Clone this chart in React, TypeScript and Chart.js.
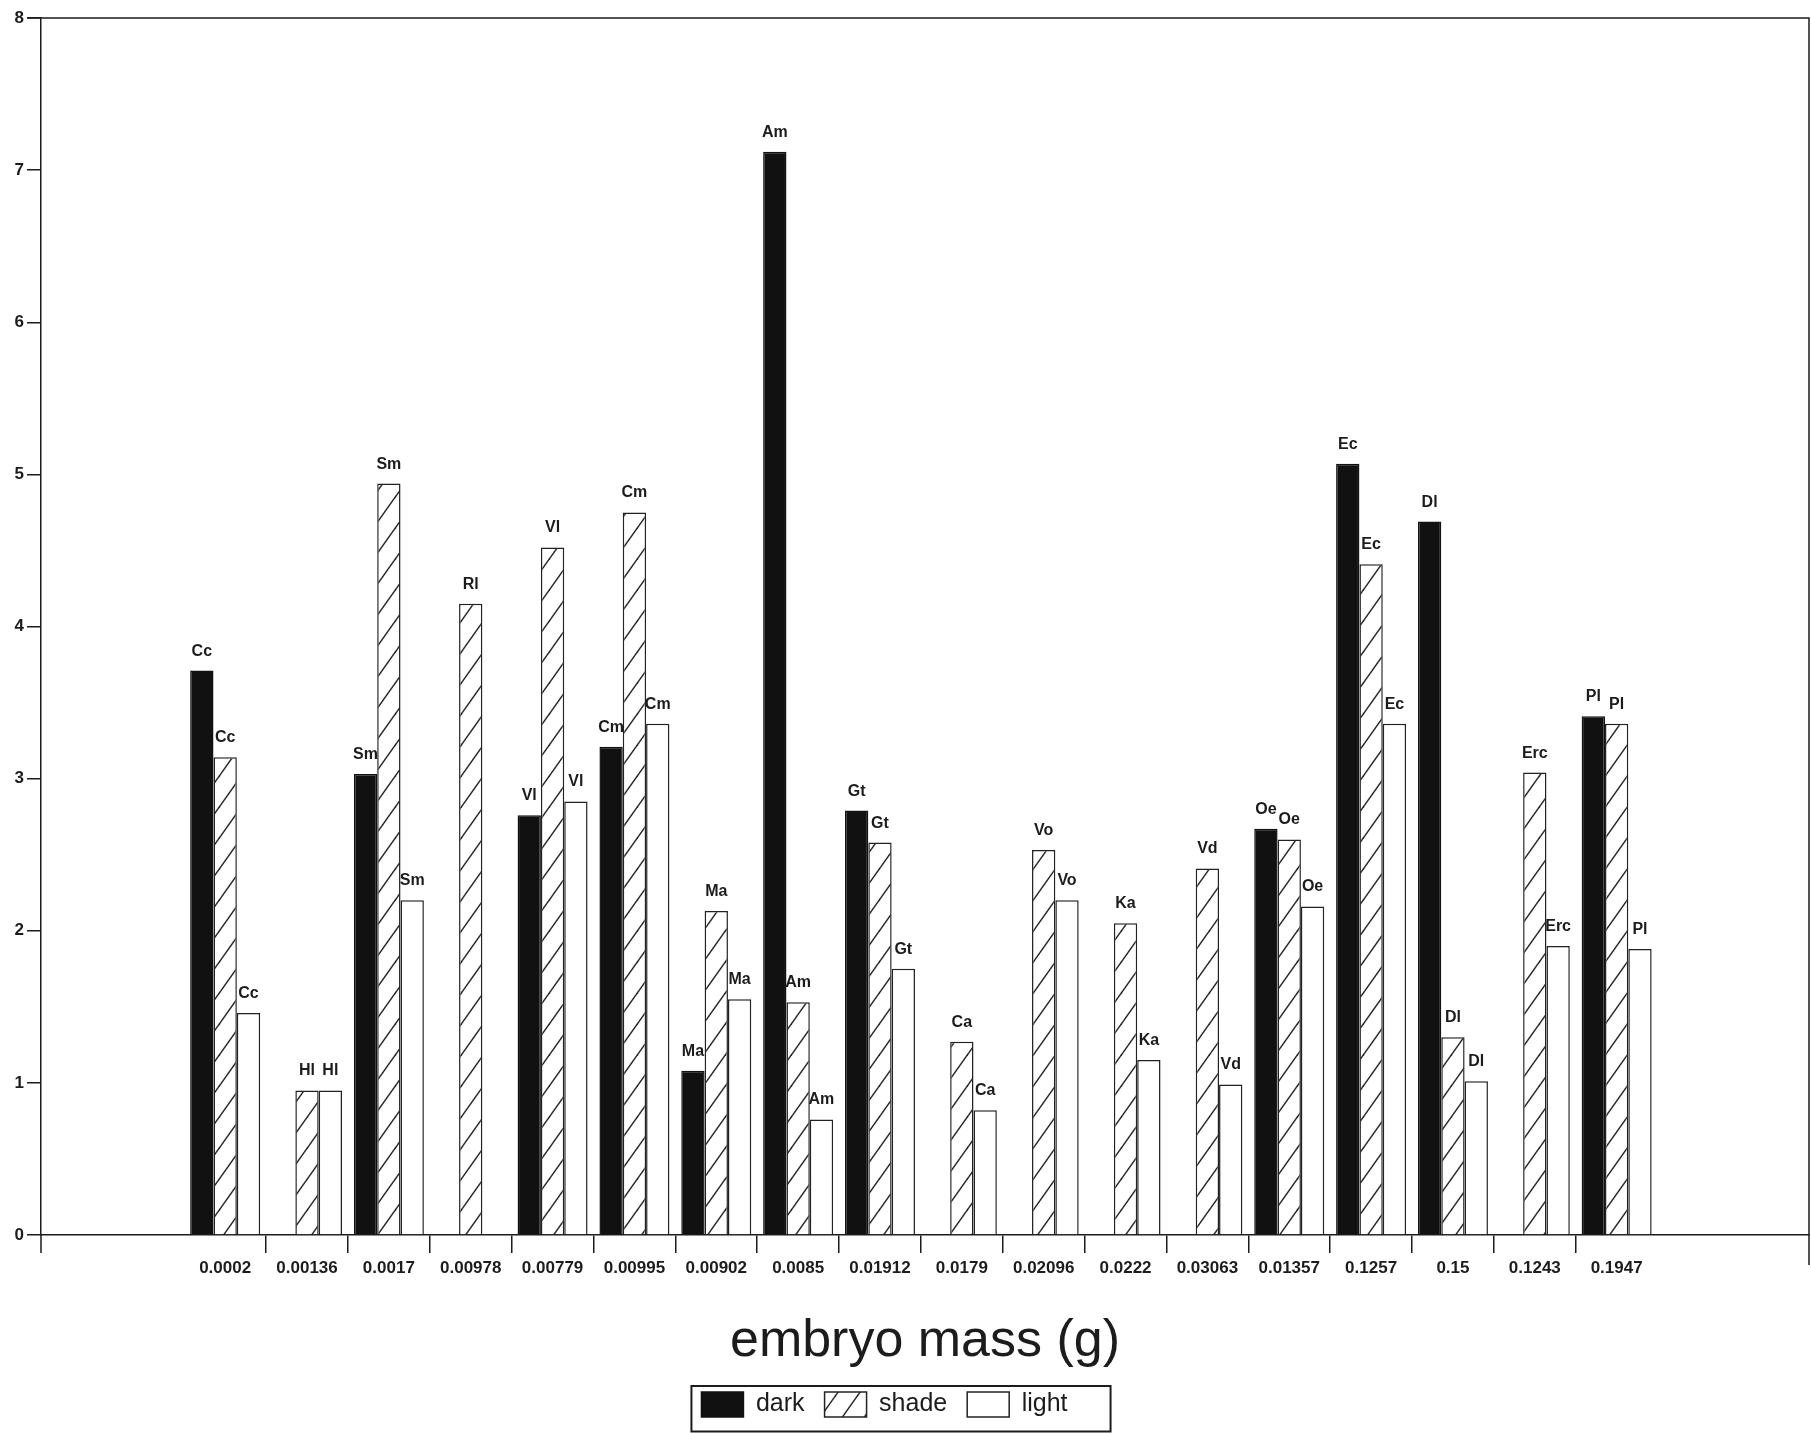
import React, { useEffect, useRef } from 'react';
import { Chart, registerables } from 'chart.js';

Chart.register(...registerables);

// ---- data ----
const massLabels = ['0.0002', '0.00136', '0.0017', '0.00978', '0.00779', '0.00995', '0.00902', '0.0085', '0.01912', '0.0179', '0.02096', '0.0222', '0.03063', '0.01357', '0.1257', '0.15', '0.1243', '0.1947'];
const speciesCodes = ['Cc', 'Hl', 'Sm', 'Rl', 'Vl', 'Cm', 'Ma', 'Am', 'Gt', 'Ca', 'Vo', 'Ka', 'Vd', 'Oe', 'Ec', 'Dl', 'Erc', 'Pl'];
const darkValues = [3.71, null, 3.03, null, 2.76, 3.21, 1.08, 7.12, 2.79, null, null, null, null, 2.67, 5.07, 4.69, null, 3.41];
const shadeValues = [3.14, 0.95, 4.94, 4.15, 4.52, 4.75, 2.13, 1.53, 2.58, 1.27, 2.53, 2.05, 2.41, 2.6, 4.41, 1.3, 3.04, 3.36];
const lightValues = [1.46, 0.95, 2.2, null, 2.85, 3.36, 1.55, 0.76, 1.75, 0.82, 2.2, 1.15, 0.99, 2.16, 3.36, 1.01, 1.9, 1.88];
const seriesNames = ['dark', 'shade', 'light'];
const xAxisTitle = 'embryo mass (g)';
const yMin = 0;
const yMax = 8;

const INK = '#1c1c1c';
const FONT = 'Arial, "Liberation Sans", Helvetica, sans-serif';

function makeHatch(): CanvasPattern | string {
  const W = 22;
  const H = 31;
  const c = document.createElement('canvas');
  c.width = W;
  c.height = H;
  const g = c.getContext('2d');
  if (!g) return '#fff';
  g.fillStyle = '#ffffff';
  g.fillRect(0, 0, W, H);
  g.strokeStyle = '#2a2a2a';
  g.lineWidth = 1.5;
  for (const dx of [-W, 0, W]) {
    g.beginPath();
    g.moveTo(-W + dx, 2 * H);
    g.lineTo(2 * W + dx, -H);
    g.stroke();
  }
  const p = g.createPattern(c, 'repeat');
  return p || '#fff';
}

const toPoints = (vals: (number | null)[]) => vals.map((v, i) => ({ x: i, y: v }));

const barLabelPlugin = {
  id: 'barLabels',
  beforeDatasetsDraw(chart: any) {
    const ctx = chart.ctx;
    ctx.save();
    ctx.font = `bold 16px ${FONT}`;
    ctx.fillStyle = INK;
    ctx.textAlign = 'center';
    ctx.textBaseline = 'alphabetic';
    chart.data.datasets.forEach((ds: any, d: number) => {
      const meta = chart.getDatasetMeta(d);
      meta.data.forEach((el: any, i: number) => {
        const v = ds.data[i] && ds.data[i].y;
        if (v === null || v === undefined) return;
        ctx.fillText(speciesCodes[i], el.x, el.y - 15);
      });
    });
    ctx.restore();
  },
};

const legendShiftPlugin = {
  id: 'legendShift',
  afterLayout(chart: any) {
    const lg = chart.legend;
    if (lg) {
      lg.left -= 20;
      lg.right -= 20;
    }
  },
};

const framePlugin = {
  id: 'frame',
  afterDraw(chart: any) {
    const { ctx, chartArea } = chart;
    const { left, right, top, bottom } = chartArea;
    ctx.save();
    ctx.strokeStyle = INK;
    ctx.lineWidth = 1.5;
    ctx.beginPath();
    ctx.moveTo(left - 14, top);
    ctx.lineTo(right, top);
    ctx.lineTo(right, bottom + 30);
    ctx.moveTo(left, bottom);
    ctx.lineTo(left, bottom + 18);
    ctx.stroke();

    const hb = chart.legend && chart.legend.legendHitBoxes;
    if (hb && hb.length) {
      const first = hb[0];
      const last = hb[hb.length - 1];
      const x0 = first.left - 10;
      const x1 = last.left + last.width + 43;
      const y0 = first.top - 6;
      const y1 = Math.min(chart.height - 1.5, y0 + 46);
      ctx.lineWidth = 2;
      ctx.strokeRect(x0, y0, x1 - x0, y1 - y0);
    }
    ctx.restore();
  },
};

export default function App() {
  const ref = useRef<HTMLCanvasElement | null>(null);

  useEffect(() => {
    if (!ref.current) return;
    const hatch = makeHatch();
    const chart = new Chart(ref.current, {
      type: 'bar',
      data: {
        datasets: [
          {
            label: seriesNames[0],
            data: toPoints(darkValues),
            backgroundColor: '#111111',
            borderColor: '#111111',
            borderWidth: 1.5,
          },
          {
            label: seriesNames[1],
            data: toPoints(shadeValues),
            backgroundColor: hatch as any,
            borderColor: '#222222',
            borderWidth: 1.5,
          },
          {
            label: seriesNames[2],
            data: toPoints(lightValues),
            backgroundColor: '#ffffff',
            borderColor: '#222222',
            borderWidth: 1.5,
          },
        ] as any,
      },
      options: {
        responsive: false,
        animation: false,
        devicePixelRatio: 1,
        datasets: {
          bar: {
            categoryPercentage: 0.855,
            barPercentage: 1,
          },
        },
        layout: { padding: { left: 0, top: 18, right: 2, bottom: 6 } },
        plugins: {
          tooltip: { enabled: false },
          title: { display: false },
          legend: {
            display: true,
            position: 'bottom',
            labels: {
              boxWidth: 42,
              boxHeight: 25,
              padding: 20,
              color: INK,
              font: { family: FONT, size: 25 },
            },
          },
        },
        scales: {
          x: {
            type: 'linear',
            min: -2.25,
            max: 19.35,
            offset: false,
            bounds: 'data',
            afterBuildTicks: (scale: any) => {
              scale.ticks = massLabels.map((_, i) => ({ value: i }));
            },
            afterFit: (scale: any) => {
              scale.height = 137;
            },
            ticks: {
              autoSkip: false,
              maxRotation: 0,
              minRotation: 0,
              padding: 5,
              color: INK,
              font: { family: FONT, size: 17, weight: 'bold' },
              callback: (value: any) => massLabels[value] ?? '',
            },
            grid: {
              display: true,
              drawOnChartArea: false,
              drawTicks: true,
              tickLength: 18,
              offset: true,
              lineWidth: 1.5,
              color: (c: any) => (c.type === 'tick' && c.index > 0 ? INK : 'rgba(0,0,0,0)'),
            },
            border: { display: true, color: INK, width: 1.5 },
            title: {
              display: true,
              text: xAxisTitle,
              color: INK,
              font: { family: FONT, size: 52, lineHeight: 1 },
              padding: { top: 0, bottom: 4 },
            },
          },
          y: {
            type: 'linear',
            min: yMin,
            max: yMax,
            afterFit: (scale: any) => {
              scale.width = 41;
            },
            ticks: {
              stepSize: 1,
              padding: 3,
              color: INK,
              font: { family: FONT, size: 17, weight: 'bold' },
            },
            grid: {
              display: true,
              drawOnChartArea: false,
              drawTicks: true,
              tickLength: 14,
              lineWidth: 1.5,
              color: INK,
            },
            border: { display: true, color: INK, width: 1.5 },
          },
        },
      } as any,
      plugins: [barLabelPlugin, legendShiftPlugin, framePlugin],
    });
    return () => chart.destroy();
  }, []);

  return (
    <div style={{ position: 'absolute', left: 0, top: 0, width: 1811, height: 1433, background: '#fff' }}>
      <canvas ref={ref} width={1811} height={1433} style={{ display: 'block' }} />
    </div>
  );
}
